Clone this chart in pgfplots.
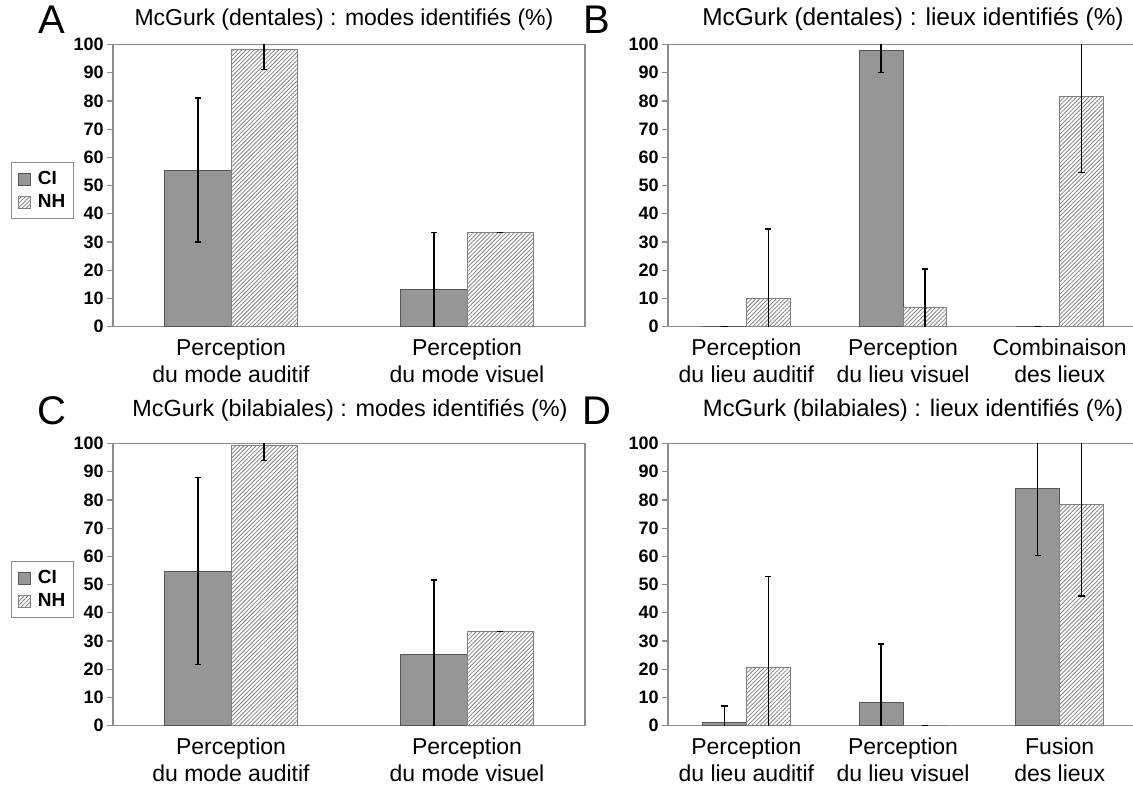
\documentclass[border=0pt]{standalone}
\usepackage{fontspec}
\setmainfont{Liberation Sans}
\usepackage{pgfplots}
\pgfplotsset{compat=1.18}
\usetikzlibrary{patterns.meta}

\definecolor{cigray}{HTML}{969696}
\definecolor{edgegray}{HTML}{555555}
\definecolor{framegray}{HTML}{8C8C8C}
\definecolor{hatchgray}{HTML}{808080}

\pgfplotsset{
  panel/.style={
    scale only axis, height=141pt,
    ymin=0, ymax=100, ytick={0,10,...,100}, ytick pos=left,
    axis line style={framegray, line width=0.6pt},
    tick align=outside, major tick length=3pt,
    ytick style={framegray, line width=0.6pt},
    xtick style={draw=none},
    /pgf/number format/assume math mode=true,
    yticklabel style={font=\fontsize{9}{10}\selectfont\bfseries, inner sep=1.5pt},
    xticklabel style={align=center, font=\fontsize{11.5}{13.6}\selectfont, inner sep=1pt, yshift=-2pt},
    ybar, bar width=0.28,
    area legend,
    legend image code/.code={\draw[#1] (0pt,-3pt) rectangle (6pt,3pt);},
  },
  ci/.style={fill=cigray, draw=edgegray, line width=0.5pt, bar shift=-0.14},
  nh/.style={draw=hatchgray, line width=0.5pt, pattern={Lines[angle=45,distance=1.45pt,line width=0.4pt]}, pattern color=hatchgray, bar shift=0.14},
  errs/.style={error bars/.cd, y dir=both, y explicit,
    error bar style={black, line width=0.6pt},
    error mark options={black, line width=0.6pt, mark size=1.6pt, rotate=90}},
  leg/.style={legend style={draw=framegray, line width=0.5pt, at={(-0.216,0.583)}, anchor=north west,
    font=\fontsize{9.5}{10}\selectfont\bfseries, inner sep=3pt, row sep=1pt,
    nodes={inner sep=1.2pt},
    /tikz/every odd column/.append style={column sep=2.5pt},
    cells={anchor=west}}},
}

\begin{document}
\begin{tikzpicture}
\useasboundingbox (0pt,0pt) rectangle (566.5pt,-392pt);

% Panel A
\begin{axis}[panel, width=236pt, at={(56.5pt,-22.25pt)}, anchor=north west,
  xmin=-0.5, xmax=1.5, xtick={0,1},
  xticklabels={{Perception\\du mode auditif},{Perception\\du mode visuel}}, leg]
\addplot[ci, errs] coordinates {(0,55.5) +- (0,25.5) (1,13.0) +- (0,20.3)};
\addplot[nh, errs] coordinates {(0,98.3) +- (0,7.3) (1,33.3) +- (0,0)};
\legend{CI,NH}
\end{axis}

% Panel B
\begin{axis}[panel, width=235pt, at={(334pt,-22.25pt)}, anchor=north west,
  xmin=-0.5, xmax=2.5, xtick={0,1,2},
  xticklabels={{Perception\\du lieu auditif},{Perception\\du lieu visuel},{Combinaison\\des lieux}}]
\addplot[ci, errs] coordinates {(0,0) +- (0,0) (1,98.0) +- (0,7.8) (2,0) +- (0,0)};
\addplot[nh, errs] coordinates {(0,10.0) +- (0,24.6) (1,6.7) +- (0,13.7) (2,81.5) +- (0,27.0)};
\end{axis}

% Panel C
\begin{axis}[panel, width=236pt, at={(56.5pt,-221.75pt)}, anchor=north west,
  xmin=-0.5, xmax=1.5, xtick={0,1},
  xticklabels={{Perception\\du mode auditif},{Perception\\du mode visuel}}, leg]
\addplot[ci, errs] coordinates {(0,54.7) +- (0,33.2) (1,25.2) +- (0,26.4)};
\addplot[nh, errs] coordinates {(0,99.2) +- (0,5.3) (1,33.3) +- (0,0)};
\legend{CI,NH}
\end{axis}

% Panel D
\begin{axis}[panel, width=235pt, at={(334pt,-221.75pt)}, anchor=north west,
  xmin=-0.5, xmax=2.5, xtick={0,1,2},
  xticklabels={{Perception\\du lieu auditif},{Perception\\du lieu visuel},{Fusion\\des lieux}}]
\addplot[ci, errs] coordinates {(0,1.1) +- (0,5.8) (1,8.3) +- (0,20.6) (2,83.9) +- (0,23.7)};
\addplot[nh, errs] coordinates {(0,20.6) +- (0,32.2) (1,0) +- (0,0) (2,78.5) +- (0,32.6)};
\end{axis}

% Panel letters and titles
\node[font=\fontsize{20}{22}\selectfont] at (26pt,-10pt) {A};
\node[font=\fontsize{20}{22}\selectfont] at (298.5pt,-10pt) {B};
\node[font=\fontsize{20}{22}\selectfont] at (26pt,-205.5pt) {C};
\node[font=\fontsize{20}{22}\selectfont] at (298.5pt,-205.5pt) {D};
\node[font=\fontsize{11.5}{13}\selectfont] at (172pt,-9.5pt) {McGurk (dentales) : modes identifiés (\%)};
\node[font=\fontsize{12.2}{13}\selectfont] at (456.5pt,-9.5pt) {McGurk (dentales) : lieux identifiés (\%)};
\node[font=\fontsize{11.7}{13}\selectfont] at (175pt,-205pt) {McGurk (bilabiales) : modes identifiés (\%)};
\node[font=\fontsize{11.9}{13}\selectfont] at (456.5pt,-205pt) {McGurk (bilabiales) : lieux identifiés (\%)};
\end{tikzpicture}
\end{document}
